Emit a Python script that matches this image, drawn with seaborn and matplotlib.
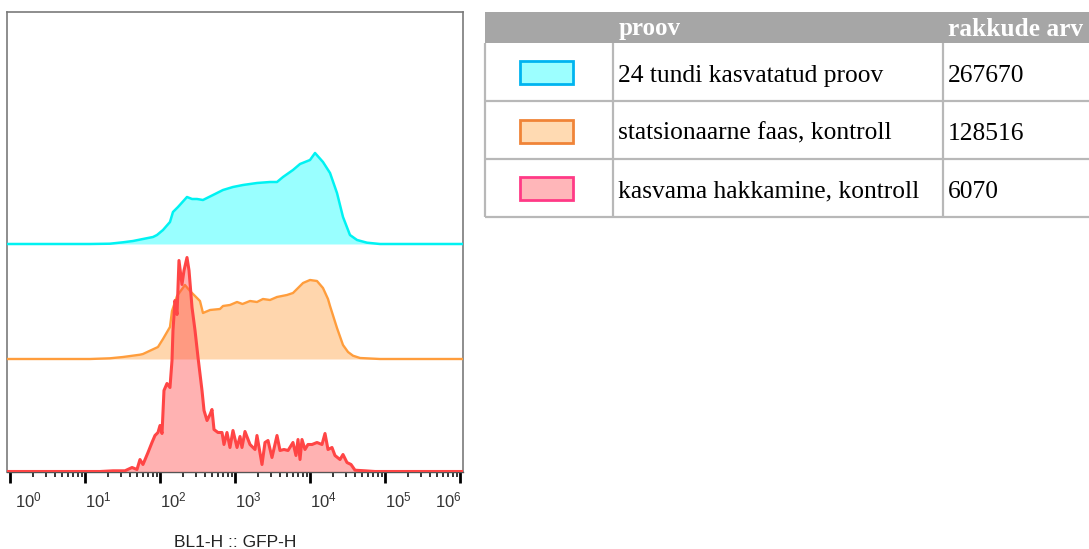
import numpy as np
import pandas as pd
import matplotlib
matplotlib.use("Agg")
import matplotlib.pyplot as plt
import matplotlib.ticker as mticker
import matplotlib.transforms as mtransforms
from matplotlib.patches import Rectangle
import seaborn as sns

# ---------------- data (log10 of BL1-H :: GFP-H, relative event counts) ----------------
sample_names = ["24 tundi kasvatatud proov", "statsionaarne faas, kontroll", "kasvama hakkamine, kontroll"]
cell_counts = ["267670", "128516", "6070"]

cyan_log = [-0.1, 1.067, 1.333, 1.507, 1.64, 1.773, 1.907, 1.96, 2.04, 2.133, 2.173, 2.24, 2.3, 2.36,
            2.427, 2.493, 2.573, 2.707, 2.84, 2.973, 3.107, 3.2, 3.293, 3.467, 3.56, 3.64, 3.773, 3.867,
            4.0, 4.067, 4.173, 4.267, 4.36, 4.44, 4.533, 4.627, 4.76, 4.933, 6.1]
cyan_h = [0, 0, 0.3, 1.7, 3, 5, 7, 9, 14, 22, 32, 37, 42, 47, 45, 45, 44, 49, 54, 57, 59, 60, 61, 62,
          62, 67, 74, 80, 84, 91, 82, 71, 51, 27, 9, 4, 1.3, 0, 0]

orange_log = [-0.1, 1.067, 1.333, 1.507, 1.733, 1.773, 1.867, 1.973, 2.04, 2.133, 2.16, 2.227, 2.333,
              2.4, 2.467, 2.533, 2.573, 2.667, 2.8, 2.84, 2.933, 3.027, 3.1, 3.2, 3.293, 3.373, 3.467,
              3.56, 3.693, 3.773, 3.827, 3.907, 4.0, 4.093, 4.173, 4.24, 4.267, 4.36, 4.44, 4.507,
              4.573, 4.667, 4.933, 6.1]
orange_h = [0, 0, 0.7, 2, 4.3, 5, 8.3, 12, 20, 32, 48, 63, 74, 68, 63, 58, 46, 49, 50, 53, 54, 57, 55,
            58, 57, 60, 59, 62, 64, 66, 70, 76, 79, 78, 71, 60, 53, 31, 14, 7, 3.3, 1, 0, 0]

red_log = [-0.1, 1.0, 1.2, 1.373, 1.533, 1.627, 1.693, 1.733, 1.773, 1.84, 1.893, 1.933, 1.973, 2.0,
           2.027, 2.053, 2.093, 2.133, 2.16, 2.173, 2.2, 2.227, 2.253, 2.293, 2.32, 2.36, 2.387, 2.427,
           2.467, 2.507, 2.56, 2.587, 2.627, 2.667, 2.693, 2.72, 2.773, 2.827, 2.853, 2.893, 2.933,
           2.973, 3.027, 3.067, 3.093, 3.133, 3.2, 3.267, 3.293, 3.36, 3.4, 3.44, 3.493, 3.56, 3.6,
           3.653, 3.707, 3.773, 3.813, 3.84, 3.867, 3.893, 3.933, 3.973, 4.027, 4.093, 4.16, 4.2,
           4.24, 4.293, 4.333, 4.4, 4.44, 4.493, 4.547, 4.6, 4.733, 4.867, 6.1]
red_h = [0, 0, 0, 0.7, 0.7, 4, 2, 12, 7, 19, 29, 36, 39, 46, 38, 81, 88, 84, 111, 141, 171, 157, 211,
         187, 201, 214, 201, 164, 141, 114, 81, 61, 51, 57, 62, 42, 39, 39, 27, 39, 24, 41, 24, 35, 24,
         40, 27, 22, 36, 7, 29, 31, 14, 36, 21, 22, 21, 29, 16, 32, 12, 32, 22, 27, 27, 29, 27, 38, 22,
         24, 16, 12, 17, 9, 7, 1.3, 0.7, 0, 0]

decades = [0, 1, 2, 3, 4, 5, 6]

# ---------------- styles ----------------
line_colors = ["#00f2f2", "#ff9d3c", "#ff4545"]
fill_colors = ["#00ffff", "#ff9933", "#ff4040"]
line_widths = [1.8, 1.7, 2.2]
offsets = [227.5, 112.5, 0.0]
swatch_fill = ["#9cffff", "#ffdab2", "#ffb6b9"]
swatch_edge = ["#00b4f0", "#f08438", "#ff3a86"]

sns.set_style("white")
plt.rcParams["font.family"] = ["Liberation Sans", "DejaVu Sans"]
plt.rcParams["mathtext.fontset"] = "custom"
plt.rcParams["mathtext.rm"] = "Liberation Sans"
plt.rcParams["mathtext.it"] = "Liberation Sans:italic"
plt.rcParams["mathtext.bf"] = "Liberation Sans:bold"

W, H = 1089, 549
fig = plt.figure(figsize=(W / 100, H / 100), dpi=100)

ax_l, ax_r, ax_t, ax_b = 7.3, 463.3, 12.3, 471.5
ax = fig.add_axes([ax_l / W, (H - ax_b) / H, (ax_r - ax_l) / W, (ax_b - ax_t) / H])

series = [(cyan_log, cyan_h), (orange_log, orange_h), (red_log, red_h)]
frames = []
for name, (lg, hh), off in zip(sample_names, series, offsets):
    assert len(lg) == len(hh)
    frames.append(pd.DataFrame({"gfp": 10 ** np.array(lg, dtype=float),
                                "height": np.array(hh, dtype=float),
                                "y": np.array(hh, dtype=float) + off,
                                "sample": name}))
df = pd.concat(frames, ignore_index=True)

for i, name in enumerate(sample_names):
    sub = df[df["sample"] == name]
    ax.fill_between(sub["gfp"], offsets[i], sub["y"], color=fill_colors[i], alpha=0.4,
                    linewidth=0, zorder=2 + 2 * i)
    sns.lineplot(data=sub, x="gfp", y="y", ax=ax, color=line_colors[i], lw=line_widths[i],
                 estimator=None, sort=False, zorder=3 + 2 * i, legend=False)

ax.set_xscale("log")
ax.set_xlim(10 ** -0.036, 10 ** 6.044)
ax.set_ylim(0, ax_b - ax_t)
ax.set_yticks([])
ax.set_xlabel("")
ax.set_ylabel("")
ax.xaxis.set_major_locator(mticker.FixedLocator([10.0 ** d for d in decades]))
ax.xaxis.set_minor_locator(mticker.LogLocator(base=10, subs=np.arange(2, 10), numticks=50))
ax.xaxis.set_minor_formatter(mticker.NullFormatter())
ax.tick_params(axis="x", which="major", direction="out", length=8, width=2.0, color="black",
               labelbottom=False, bottom=True)
ax.tick_params(axis="x", which="minor", direction="out", length=3.5, width=1.1, color="black",
               bottom=True)
for s in ["left", "right", "top"]:
    ax.spines[s].set_color("#7a7a7a")
    ax.spines[s].set_linewidth(1.2)
ax.spines["bottom"].set_color("#555555")
ax.spines["bottom"].set_linewidth(1.0)

# decade labels, left-aligned at each tick like the reference
base_tr = ax.get_xaxis_transform()
for j, d in enumerate(decades):
    dx = 0
    ha = "left"
    if j == 0:
        dx = 5
    if j == len(decades) - 1:
        ha = "right"
        dx = 2
    tr = base_tr + mtransforms.ScaledTranslation(dx / 100, -35.5 / 100, fig.dpi_scale_trans)
    ax.text(10.0 ** d, 0, r"$\mathregular{10^{%d}}$" % d, transform=tr, ha=ha, va="baseline",
            fontsize=12, color="#333333")

fig.text(235.3 / W, 1 - 547 / H, "BL1-H :: GFP-H", ha="center", va="baseline",
         fontsize=12.5, color="#222222")

# ---------------- legend table ----------------
tab = fig.add_axes([0, 0, 1, 1])
tab.set_xlim(0, W)
tab.set_ylim(H, 0)
tab.axis("off")
tab.patch.set_alpha(0)

t_left, t_right = 484.5, 1095
col_x = [484.5, 612.7, 943.2]
row_y = [12.0, 42.8, 101.0, 158.8, 216.5]
grid_c = "#b8b8b8"

tab.add_patch(Rectangle((t_left, row_y[0]), t_right - t_left, row_y[1] - row_y[0],
                        facecolor="#a6a6a6", edgecolor="none"))
for y in row_y[2:]:
    tab.plot([t_left, t_right], [y, y], color=grid_c, lw=1.6, solid_capstyle="butt")
for x in col_x:
    tab.plot([x, x], [row_y[1], row_y[-1]], color=grid_c, lw=1.6, solid_capstyle="butt")

serif = ["Liberation Serif", "DejaVu Serif"]
tab.text(col_x[1] + 5.5, 35.5, "proov", color="white", fontsize=18, fontweight="bold",
         family=serif, ha="left", va="baseline")
tab.text(col_x[2] + 5.0, 35.5, "rakkude arv", color="white", fontsize=18.3, fontweight="bold",
         family=serif, ha="left", va="baseline")

for i in range(3):
    top = row_y[i + 1]
    tab.add_patch(Rectangle((519.5, top + 18.5), 53.0, 23.0, facecolor=swatch_fill[i],
                            edgecolor=swatch_edge[i], lw=2.0))
    tab.text(col_x[1] + 5.5, top + 38.8, sample_names[i], fontsize=18.4, family=serif,
             ha="left", va="baseline", color="black")
    tab.text(col_x[2] + 4.5, top + 38.8, cell_counts[i], fontsize=18.4, family=serif,
             ha="left", va="baseline", color="black")

fig.savefig("out.png", dpi=100)
